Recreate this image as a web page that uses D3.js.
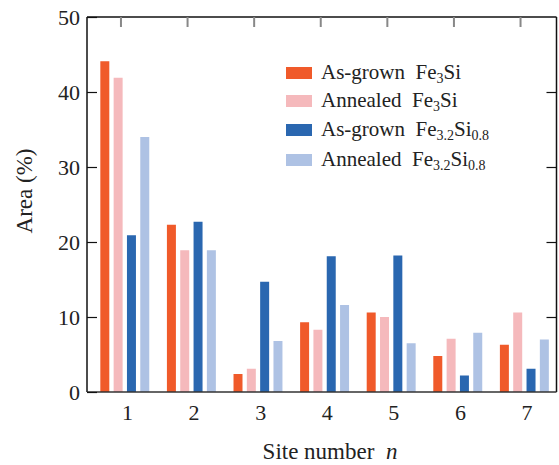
<!DOCTYPE html>
<html>
<head>
<meta charset="utf-8">
<script src="https://cdn.jsdelivr.net/npm/d3@7"></script>
<style>
  html, body { margin: 0; padding: 0; background: #fff; }
  svg { display: block; }
  svg text { font-family: "Liberation Serif", "Times New Roman", "DejaVu Serif", serif !important; fill: #222; }
</style>
</head>
<body>
<svg id="chart" width="559" height="465"></svg>
<script>
const sites = [1, 2, 3, 4, 5, 6, 7];
const asGrownFe3Si = [44.1, 22.3, 2.4, 9.3, 10.6, 4.8, 6.3];
const annealedFe3Si = [41.9, 18.9, 3.1, 8.3, 10.0, 7.1, 10.6];
const asGrownFe32 = [20.9, 22.7, 14.7, 18.1, 18.2, 2.2, 3.1];
const annealedFe32 = [34.0, 18.9, 6.8, 11.6, 6.5, 7.9, 7.0];
const yTicks = [0, 10, 20, 30, 40, 50];

const series = [
  { name: "As-grown", sub: ["Fe", "3", "Si", ""], values: asGrownFe3Si, color: "#f05a2a" },
  { name: "Annealed", sub: ["Fe", "3", "Si", ""], values: annealedFe3Si, color: "#f5b9bc" },
  { name: "As-grown", sub: ["Fe", "3.2", "Si", "0.8"], values: asGrownFe32, color: "#2a67b0" },
  { name: "Annealed", sub: ["Fe", "3.2", "Si", "0.8"], values: annealedFe32, color: "#aec2e4" }
];

const L = 87, R = 556.5, T = 17, B = 392;
const svg = d3.select("#chart");
const x = d3.scaleLinear().domain([0.4, 7.45]).range([L, R]);
const y = d3.scaleLinear().domain([0, 50]).range([B, T]);

const barStep = 0.2, barW = 0.135;

// bars
series.forEach((s, k) => {
  svg.append("g").selectAll("rect").data(s.values).join("rect")
    .attr("x", (d, i) => x(sites[i] - 0.4 + k * barStep))
    .attr("width", x(barW) - x(0))
    .attr("y", d => y(d))
    .attr("height", d => y(0) - y(d))
    .attr("fill", s.color);
});

// frame
svg.append("line").attr("x1", L).attr("x2", R).attr("y1", T).attr("y2", T).attr("stroke", "#111").attr("stroke-width", 1.5);
svg.append("line").attr("x1", L).attr("x2", L).attr("y1", T).attr("y2", B).attr("stroke", "#111").attr("stroke-width", 1.5);
svg.append("line").attr("x1", R).attr("x2", R).attr("y1", T).attr("y2", B).attr("stroke", "#111").attr("stroke-width", 1.5);
svg.append("line").attr("x1", L).attr("x2", R).attr("y1", B).attr("y2", B).attr("stroke", "#333").attr("stroke-width", 1.5);

// y ticks left & right (inward)
const yAxisL = d3.axisLeft(y).tickValues(yTicks).tickSize(-10).tickPadding(7).tickFormat(d3.format("d"));
const gL = svg.append("g").attr("transform", `translate(${L},0)`).call(yAxisL);
gL.select(".domain").remove();
gL.selectAll(".tick line").attr("stroke", "#111").attr("stroke-width", 1.2);
gL.selectAll(".tick text").style("font-size", "22px");

const yAxisR = d3.axisRight(y).tickValues(yTicks.filter(v => v > 0 && v < 50)).tickSize(-10).tickFormat("");
const gR = svg.append("g").attr("transform", `translate(${R},0)`).call(yAxisR);
gR.select(".domain").remove();
gR.selectAll(".tick line").attr("stroke", "#111").attr("stroke-width", 1.2);

// x labels
const xAxis = d3.axisBottom(x).tickValues(sites).tickSize(0).tickPadding(12).tickFormat(d3.format("d"));
const gX = svg.append("g").attr("transform", `translate(0,${B})`).call(xAxis);
gX.select(".domain").remove();
gX.selectAll(".tick text").style("font-size", "22px");

// top ticks (grey, inward)
svg.append("g").selectAll("line").data(sites).join("line")
  .attr("x1", d => x(d - 0.09)).attr("x2", d => x(d - 0.09))
  .attr("y1", T).attr("y2", T + 10)
  .attr("stroke", "#888").attr("stroke-width", 2);

// axis titles
svg.append("text")
  .attr("transform", `translate(32,191) rotate(-90)`)
  .attr("text-anchor", "middle")
  .style("font-size", "23px")
  .text("Area (%)");

const xt = svg.append("text")
  .attr("x", 330).attr("y", 459)
  .attr("text-anchor", "middle")
  .style("font-size", "23px");
xt.append("tspan").text("Site number\u2002");
xt.append("tspan").attr("font-style", "italic").text("n");

// legend
const leg = svg.append("g");
const rowsY = [73, 101, 130, 160];
series.forEach((s, k) => {
  const cy = rowsY[k];
  leg.append("rect").attr("x", 286).attr("y", cy - 6).attr("width", 26).attr("height", 12).attr("fill", s.color);
  const t = leg.append("text").attr("x", 321).attr("y", cy + 6)
    .style("font-size", "21px");
  t.append("tspan").text(s.name + "\u2002" + s.sub[0]);
  t.append("tspan").style("font-size", "14px").attr("dy", 4).text(s.sub[1]);
  t.append("tspan").attr("dy", -4).text(s.sub[2]);
  if (s.sub[3]) t.append("tspan").style("font-size", "14px").attr("dy", 4).text(s.sub[3]);
});
</script>
</body>
</html>
